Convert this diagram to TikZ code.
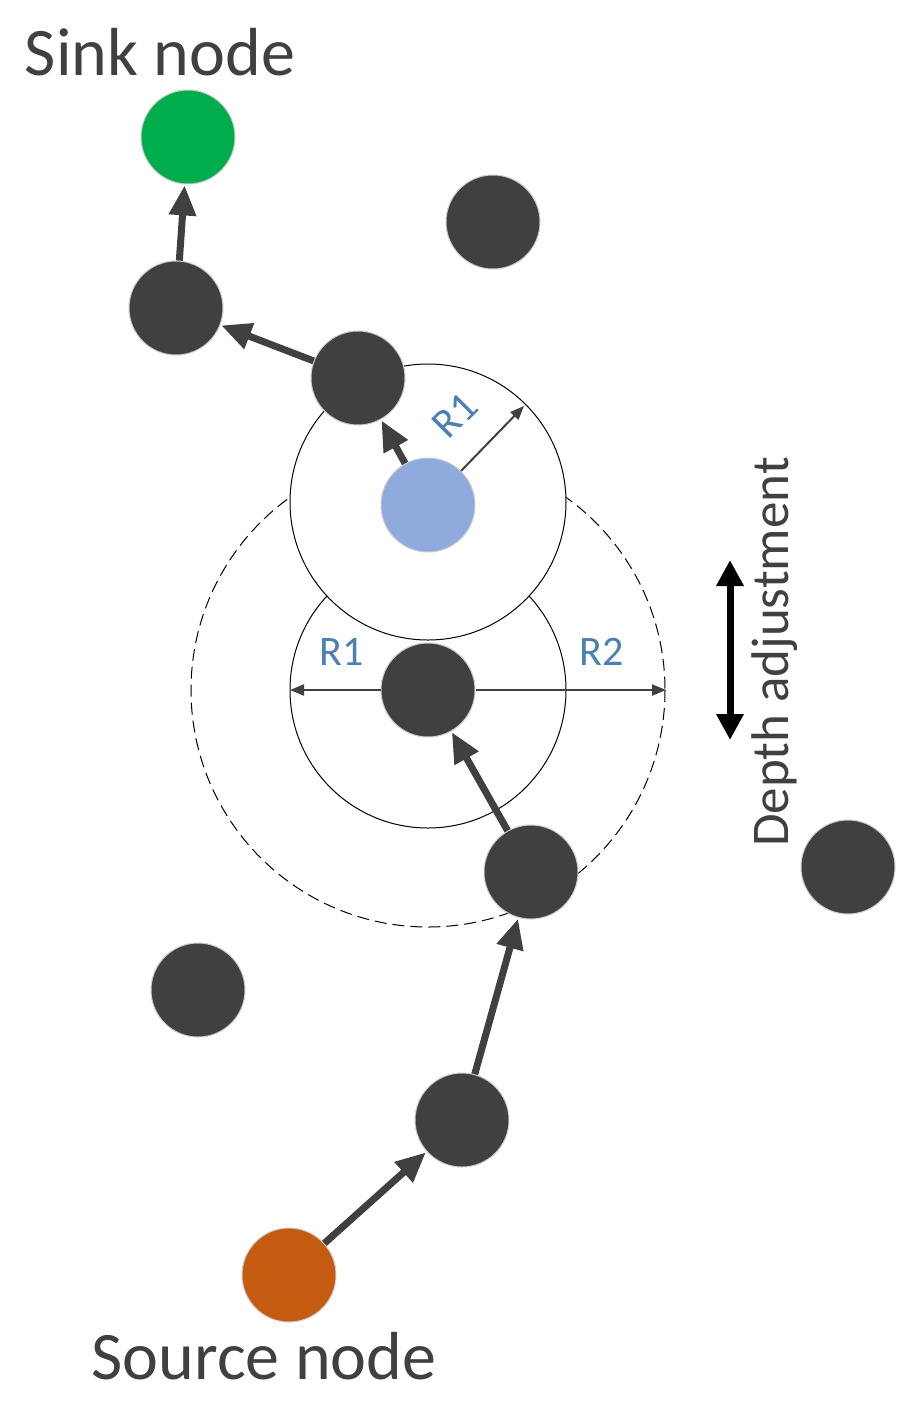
\documentclass[tikz,border=0pt]{standalone}
\usepackage{fontspec}
\setmainfont{Carlito}
\usetikzlibrary{arrows.meta}
\definecolor{dk}{RGB}{64,64,64}
\definecolor{lbl}{RGB}{76,128,180}
\begin{document}
\begin{tikzpicture}[x=1pt,y=-1pt,
 nd/.style={circle,minimum size=94pt,inner sep=0pt,draw=gray!40,line width=1pt,fill=dk},
 big/.style={draw=dk,line width=7pt,-{Triangle[length=30pt,width=26pt]},shorten >=1pt},
 thin/.style={draw=dk,line width=2pt,-{Triangle[length=14pt,width=11pt]}},
 lab/.style={text=lbl,font=\fontsize{42}{44}\selectfont}]
\useasboundingbox (0,0) rectangle (919,1414);
\draw[dash pattern=on 12pt off 6pt,line width=1pt] (428,690) circle (237);
\draw[line width=1pt] (428,690) circle (138);
\draw[line width=1pt,fill=white] (428,502) circle (138);
\node[nd,fill={rgb,255:red,0;green,173;blue,76}] (sink) at (188,137) {};
\node[nd] (a) at (493,222) {};
\node[nd] (b) at (176,308) {};
\node[nd] (c) at (358,378) {};
\node[nd,fill={rgb,255:red,143;green,170;blue,220}] (blue) at (428,505) {};
\node[nd] (m) at (428,690) {};
\node[nd] (d) at (531,872) {};
\node[nd] (e) at (848,867) {};
\node[nd] (f) at (198,990) {};
\node[nd] (g) at (462,1120) {};
\node[nd,fill={rgb,255:red,197;green,90;blue,17}] (src) at (289,1275) {};
\coordinate (r1e) at (524,406);
\coordinate (le) at (290,690);
\coordinate (re) at (666,690);
\draw[thin] (blue) -- (r1e);
\draw[thin] (m) -- (le);
\draw[thin] (m) -- (re);
\draw[big] (src) -- (g);
\draw[big] (g) -- (d);
\draw[big] (d) -- (m);
\draw[big] (blue) -- (c);
\draw[big] (c) -- (b);
\draw[big] (b) -- (sink);
\node[lab] (l1) at (342,652) {R1};
\node[lab] (l2) at (602,652) {R2};
\node[lab,rotate=45] (l3) at (455,415) {R1};
\coordinate (ua) at (730,560);
\coordinate (da) at (730,740);
\draw[line width=7pt,{Triangle[length=26pt,width=26pt]}-{Triangle[length=26pt,width=26pt]}] (ua) -- (da);
\node[rotate=90,font=\fontsize{53}{55}\selectfont,text=dk] (depth) at (775,652) {Depth adjustment};
\node[font=\fontsize{68}{70}\selectfont,text=dk] (sinkt) at (160,52) {Sink node};
\node[font=\fontsize{68}{70}\selectfont,text=dk] (srct) at (264,1356) {Source node};
\end{tikzpicture}
\end{document}
